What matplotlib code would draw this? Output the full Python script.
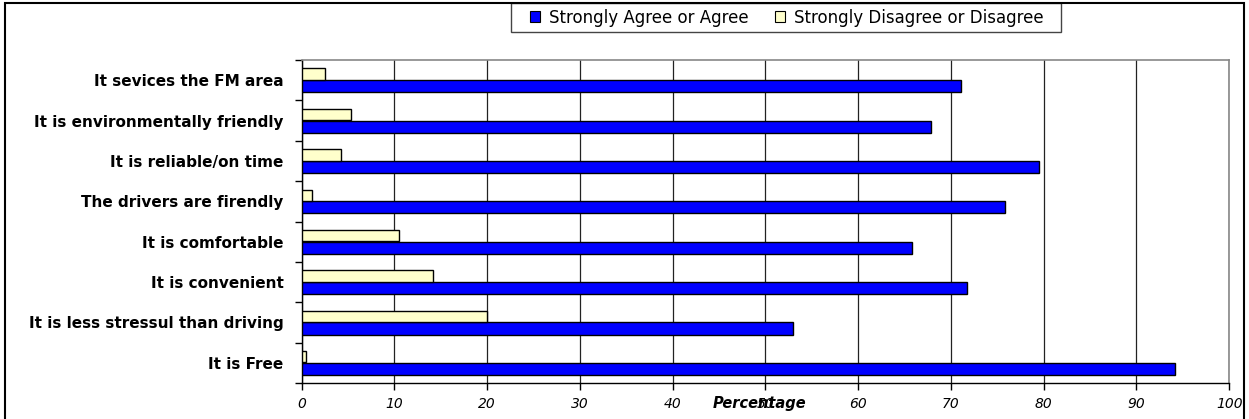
import numpy as np
import matplotlib.pyplot as plt
from matplotlib.patches import Rectangle, Patch

# survey statements, bottom to top
statements = ['It is Free',
              'It is less stressul than driving',
              'It is convenient',
              'It is comfortable',
              'The drivers are firendly',
              'It is reliable/on time',
              'It is environmentally friendly',
              'It sevices the FM area']
agree = [94.2, 53.0, 71.7, 65.8, 75.8, 79.5, 67.9, 71.1]
disagree = [0.5, 20.0, 14.2, 10.5, 1.1, 4.2, 5.3, 2.5]
xticks = np.arange(0, 101, 10)

plt.rcParams['font.family'] = ['DejaVu Sans']

fig = plt.figure(figsize=(12.49, 4.19), dpi=100)
ax = fig.add_axes([0.2416, 0.0859, 0.7425, 0.7709])

y = np.arange(len(statements))
h = 0.3
ax.barh(y - h/2, agree, height=h, color='#0000ff', edgecolor='black', lw=1,
        label='Strongly Agree or Agree', zorder=3)
ax.barh(y + h/2, disagree, height=h*0.93, color='#ffffcc', edgecolor='black', lw=1,
        label='Strongly Disagree or Disagree', zorder=3)

ax.set_xlim(0, 100)
ax.set_ylim(-0.5, len(statements) - 0.5)
ax.set_xticks(xticks)
ax.set_xticklabels([str(v) for v in xticks], fontstyle='italic', fontsize=10)
ax.tick_params(axis='x', length=5, width=1, pad=5)

# category labels sit at slot centres, ticks at slot edges
ax.set_yticks(y)
ax.set_yticklabels(statements, fontweight='bold', fontsize=11)
ax.tick_params(axis='y', length=0, pad=13)
ax.set_yticks(np.arange(-0.5, len(statements)), minor=True)
ax.tick_params(axis='y', which='minor', length=5, width=1)

ax.grid(axis='x', color='#222222', lw=0.9, zorder=0)
for s in ['top', 'right']:
    ax.spines[s].set_color('#888888')
    ax.spines[s].set_linewidth(1.2)
for s in ['left', 'bottom']:
    ax.spines[s].set_color('black')
    ax.spines[s].set_linewidth(1)

fig.text(0.608, 0.018, 'Percentage', fontsize=10.5, fontweight='bold',
         fontstyle='italic', ha='center', va='bottom')

# legend entries without frame, box drawn separately
handles = [Patch(facecolor='#0000ff', edgecolor='black', lw=0.8),
           Patch(facecolor='#ffffcc', edgecolor='black', lw=0.8)]
leg = fig.legend(handles, ['Strongly Agree or Agree', 'Strongly Disagree or Disagree'],
                 loc='center left', bbox_to_anchor=(0.424, 0.958), ncol=2,
                 frameon=False, fontsize=12,
                 handlelength=0.6, handleheight=0.6, handletextpad=0.55,
                 columnspacing=1.6, borderpad=0, borderaxespad=0)
fig.patches.append(Rectangle((0.4091, 0.9236), 0.4404, 0.0692, transform=fig.transFigure,
                             facecolor='white', edgecolor='#444444', lw=1, zorder=0))

# outer chart border
fig.patches.append(Rectangle((0.004, -0.05), 0.992, 1.043, transform=fig.transFigure,
                             fill=False, edgecolor='black', lw=1.5))

fig.savefig('out.png', dpi=100)
